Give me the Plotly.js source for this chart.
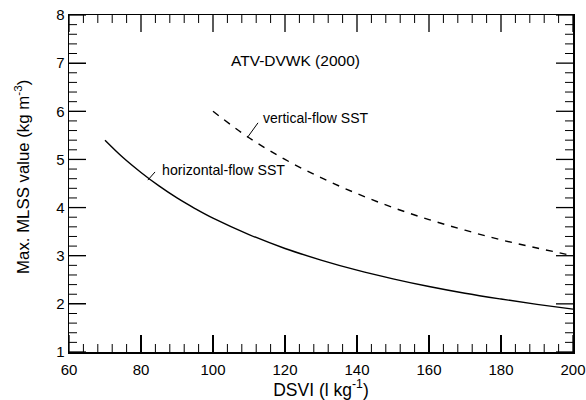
<!DOCTYPE html>
<html><head><meta charset="utf-8">
<script src="https://cdn.plot.ly/plotly-3.0.1.min.js"></script>
<style>body{margin:0;background:#fff}#c{width:586px;height:400px}</style>
</head><body><div id="c"></div>
<script>
const horizX = [70,75,80,85,90,95,100,110,120,130,140,150,160,170,180,190,200];
const horizY = [5.40,5.04,4.73,4.45,4.20,3.98,3.78,3.44,3.15,2.91,2.70,2.52,2.36,2.22,2.10,1.99,1.89];
const vertX = [100,110,120,130,140,150,160,170,180,190,200];
const vertY = [6.00,5.45,5.00,4.62,4.29,4.00,3.75,3.53,3.33,3.16,3.00];
const xRange = [60,200];
const yRange = [1,8];
const xMajorStep = 20, xMinorStep = 4;
const yMajorStep = 1, yMinorStep = 0.2;

const W = 586, H = 400, M = {l:69, r:13, t:15, b:48};
const plotW = W - M.l - M.r, plotH = H - M.t - M.b;
const xUnit = (xRange[1] - xRange[0]) / plotW;  // data units per pixel
const yUnit = (yRange[1] - yRange[0]) / plotH;
const F = 'Liberation Sans, Arial, Helvetica, sans-serif';

function steps(r, step) {
  const out = [];
  const n = Math.round((r[1] - r[0]) / step);
  for (let i = 0; i <= n; i++) out.push(+(r[0] + i * step).toFixed(6));
  return out;
}
const xMajor = steps(xRange, xMajorStep);
const yMajor = steps(yRange, yMajorStep);
const xMinor = steps(xRange, xMinorStep).filter(v => !xMajor.some(m => Math.abs(m - v) < 1e-6));
const yMinor = steps(yRange, yMinorStep).filter(v => !yMajor.some(m => Math.abs(m - v) < 1e-6));

// inside tick marks on all four sides, drawn as thin filled rectangles
const tickShapes = [];
function rect(xref, yref, x0, x1, y0, y1) {
  tickShapes.push({type:'rect', xref:xref, yref:yref, x0:x0, x1:x1, y0:y0, y1:y1,
    fillcolor:'#000', line:{width:0}, layer:'above'});
}
function addTicks(xv, yv, len, w) {
  const fy = len / plotH, fx = len / plotW;
  xv.forEach(v => {
    const a = v - w / 2 * xUnit, b = v + w / 2 * xUnit;
    rect('x', 'paper', a, b, 0, fy);
    rect('x', 'paper', a, b, 1 - fy, 1);
  });
  yv.forEach(v => {
    const a = v - w / 2 * yUnit, b = v + w / 2 * yUnit;
    rect('paper', 'y', 0, fx, a, b);
    rect('paper', 'y', 1 - fx, 1, a, b);
  });
}
addTicks(xMajor, yMajor, 17, 1.3);
addTicks(xMinor, yMinor, 8, 1.0);

const traces = [
  {x: horizX, y: horizY, mode:'lines', line:{color:'#000', width:1.4, shape:'spline'}, name:'horizontal-flow SST'},
  {x: vertX, y: vertY, mode:'lines', line:{color:'#000', width:1.4, dash:'7px,7px', shape:'spline'}, name:'vertical-flow SST'}
];

const layout = {
  width:W, height:H,
  margin:M,
  paper_bgcolor:'#fff', plot_bgcolor:'#fff',
  showlegend:false,
  xaxis: {
    showline:true, linecolor:'#000', linewidth:1.5, mirror:true,
    ticks:'inside', ticklen:17, tickwidth:1.2, tickcolor:'#000',
    showgrid:false, zeroline:false, ticklabelstandoff:3,
    tickfont:{family:F, size:15, color:'#000'},
    range:xRange, dtick:xMajorStep,
    title:{text:'DSVI (l kg<sup>-1</sup>)', font:{family:F, size:17.5, color:'#000'}, standoff:4}
  },
  yaxis: {
    showline:true, linecolor:'#000', linewidth:1.5, mirror:true,
    ticks:'inside', ticklen:17, tickwidth:1.2, tickcolor:'#000',
    showgrid:false, zeroline:false,
    tickfont:{family:F, size:15, color:'#000'},
    range:yRange, dtick:yMajorStep
  },
  annotations:[
    {xref:'paper', yref:'paper', x:-0.093, y:0.52, text:'Max. MLSS value (kg m<sup>-3</sup>)', textangle:-90, showarrow:false, xanchor:'center', yanchor:'middle', font:{family:F, size:16.8, color:'#000'}},
    {x:122.8, y:7.06, xref:'x', yref:'y', text:'ATV-DVWK (2000)', showarrow:false, font:{family:F, size:15.5, color:'#000'}},
    {x:85.3, y:4.78, xref:'x', yref:'y', text:'horizontal-flow SST', xanchor:'left', showarrow:false, font:{family:F, size:14.2, color:'#000'}},
    {x:113.4, y:5.86, xref:'x', yref:'y', text:'vertical-flow SST', xanchor:'left', showarrow:false, font:{family:F, size:14, color:'#000'}}
  ],
  shapes:[
    {type:'line', xref:'x', yref:'y', x0:81.9, y0:4.57, x1:83.9, y1:4.74, line:{color:'#000', width:1}},
    {type:'line', xref:'x', yref:'y', x0:109.7, y0:5.47, x1:112.5, y1:5.76, line:{color:'#000', width:1}}
  ].concat(tickShapes)
};
Plotly.newPlot('c', traces, layout, {displayModeBar:false, staticPlot:true});
</script>
</body></html>
